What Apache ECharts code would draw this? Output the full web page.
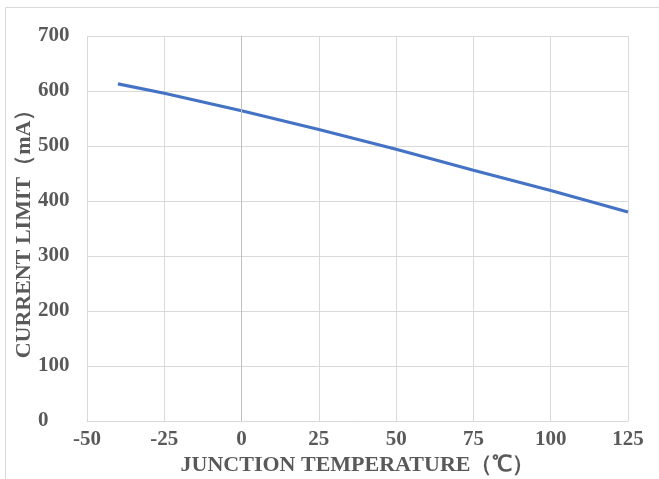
<!DOCTYPE html>
<html><head><meta charset="utf-8">
<script src="https://cdn.jsdelivr.net/npm/echarts@6/dist/echarts.min.js"></script>
<style>html,body{margin:0;padding:0;background:#fff}#c{width:659px;height:479px}</style>
</head><body><div id="c"></div>
<script>
var temps = [-40, -25, 0, 25, 50, 75, 100, 125];
var currentLimit = [613, 596, 564, 530, 494, 456, 419, 380];
var xTitle = 'JUNCTION TEMPERATURE（℃）';
var yTitle = 'CURRENT LIMIT（mA）';
var chart = echarts.init(document.getElementById('c'));
var font = 'Liberation Serif, Times New Roman, serif';
chart.setOption({
  animation: false,
  graphic: [{type:'rect', shape:{x:5.5,y:7.5,width:700,height:500}, style:{fill:'none', stroke:'#d9d9d9', lineWidth:1}, z:-1}],
  grid: {left: 87, right: 31, top: 36, bottom: 58, containLabel: false, outerBoundsMode: 'none'},
  xAxis: {
    type: 'value', min: -50, max: 125, interval: 25,
    name: xTitle, nameLocation: 'middle', nameGap: 33, nameMoveOverlap: false,
    nameTextStyle: {fontFamily: font, fontWeight: 'bold', fontSize: 22, color: '#595959'},
    axisLine: {show: true, onZero: false, lineStyle: {color: '#d9d9d9', width: 1}},
    axisTick: {show: false},
    splitLine: {show: true, lineStyle: {color: '#d9d9d9', width: 1}},
    axisLabel: {fontFamily: font, fontWeight: 'bold', fontSize: 21, color: '#595959', margin: 8}
  },
  yAxis: {
    type: 'value', min: 0, max: 700, interval: 100,
    name: yTitle, nameLocation: 'middle', nameGap: 52, nameMoveOverlap: false,
    nameTextStyle: {fontFamily: font, fontWeight: 'bold', fontSize: 22, color: '#595959'},
    axisLine: {show: false},
    axisTick: {show: false},
    splitLine: {show: true, lineStyle: {color: '#d9d9d9', width: 1}},
    axisLabel: {fontFamily: font, fontWeight: 'bold', fontSize: 21, color: '#595959', align: 'left', margin: 49}
  },
  series: [{
    type: 'line',
    data: temps.map(function(t, i){ return [t, currentLimit[i]]; }),
    showSymbol: false, symbol: 'none',
    lineStyle: {color: '#4472C4', width: 3.2},
    itemStyle: {color: '#4472C4'},
    markLine: {silent: true, symbol: 'none', label: {show: false},
      lineStyle: {color: '#bfbfbf', width: 1, type: 'solid'},
      data: [{xAxis: 0}]},
    z: 3
  }]
});
</script></body></html>
